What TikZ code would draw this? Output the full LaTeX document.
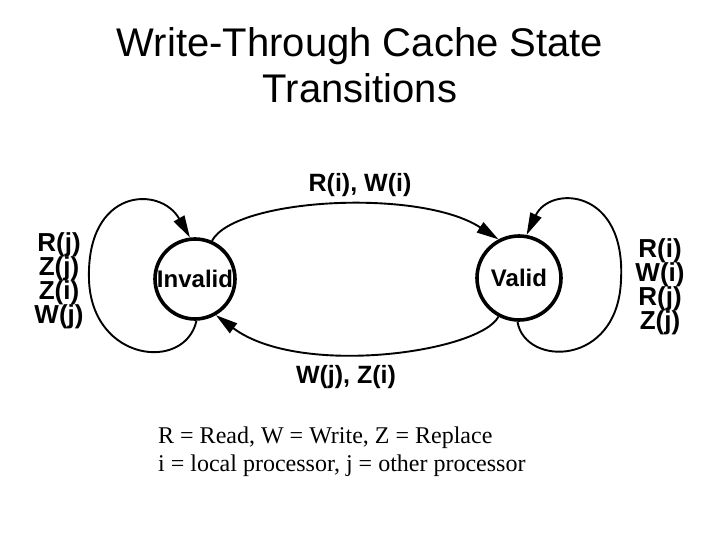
\documentclass[tikz,border=0pt]{standalone}
\usepackage{fontspec}
\setmainfont{Liberation Sans}
\newfontfamily\serifleg{Liberation Serif}
\usetikzlibrary{arrows.meta}
\setlength{\lineskiplimit}{-30pt}
\begin{document}
\begin{tikzpicture}[x=1pt,y=-1pt,
  state/.style={draw,line width=3.6pt,circle,inner sep=0pt,font=\bfseries\fontsize{24}{26}\selectfont},
  edge/.style={line width=1.9pt,-{Triangle[length=22pt,width=12pt]}},
  loopline/.style={line width=1.9pt},
  lbl/.style={font=\bfseries\fontsize{25}{27}\selectfont,inner sep=0pt},
  stack/.style={font=\bfseries\fontsize{26}{24}\selectfont,align=center,inner sep=0pt},
  ttl/.style={font=\fontsize{40}{47}\selectfont,anchor=base,inner sep=0pt},
  leg/.style={anchor=base west,inner sep=0pt,font=\serifleg\fontsize{24}{28}\selectfont}]
\useasboundingbox (0,0) rectangle (720,540);
\node[ttl] (title1) at (360,57) {Write-Through Cache State};
\node[ttl] (title2) at (360,103) {Transitions};
\node[state,minimum size=80pt] (inv) at (195,279) {Invalid};
\node[state,minimum size=84pt] (val) at (519,278) {Valid};
% top arc
\draw[edge] (inv.66) .. controls (235,198) and (420,188) .. (val.118);
% bottom arc
\draw[edge] (val.242) .. controls (480,352) and (300,378) .. (inv.300);
% left self loop
\draw[loopline] (inv.272) .. controls (185,372) and (92,362) .. (89,280) coordinate (lft);
\draw[edge] (lft) .. controls (86,188) and (160,185) .. (inv.97);
% right self loop
\draw[loopline] (val.268) .. controls (525,367) and (618,367) .. (621,280) coordinate (rgt);
\draw[edge] (rgt) .. controls (626,188) and (550,185) .. (val.80);
\node[lbl] (top) at (360,185) {R(i), W(i)};
\node[lbl] (bot) at (346,377) {W(j), Z(i)};
\node[stack] (ls) at (59,281) {R(j)\\Z(j)\\Z(i)\\W(j)};
\node[stack] (rs) at (660,287) {R(i)\\W(i)\\R(j)\\Z(j)};
\node[leg] (leg1) at (158,443) {R = Read, W = Write, Z = Replace};
\node[leg] (leg2) at (158,471) {i = local processor, j = other processor};
\end{tikzpicture}
\end{document}
